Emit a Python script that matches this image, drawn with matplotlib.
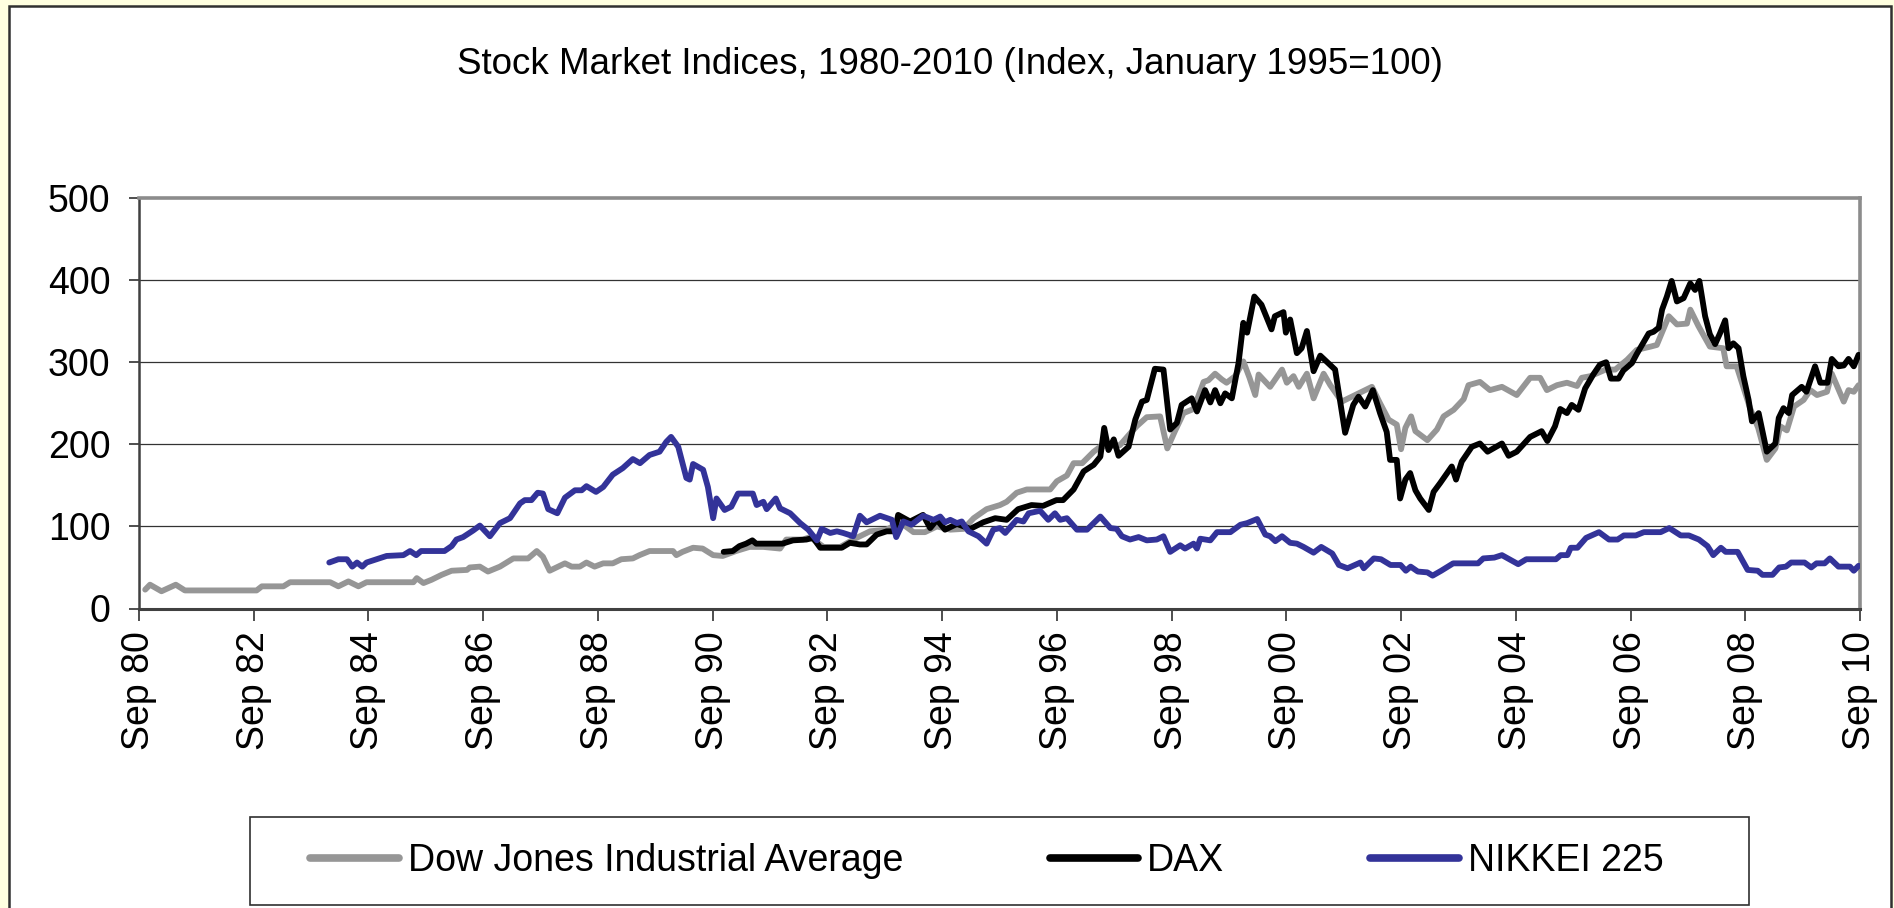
import matplotlib
matplotlib.use("Agg")
import matplotlib.pyplot as plt
from matplotlib.patches import Rectangle
from matplotlib.lines import Line2D

plt.rcParams['font.family'] = ['Liberation Sans', 'DejaVu Sans']

# ---------------- data (month offset from Sep 1980, index value) ----------------
tick_labels = ["Sep 80", "Sep 82", "Sep 84", "Sep 86", "Sep 88", "Sep 90", "Sep 92", "Sep 94",
               "Sep 96", "Sep 98", "Sep 00", "Sep 02", "Sep 04", "Sep 06", "Sep 08", "Sep 10"]
series_names = ["Dow Jones Industrial Average", "DAX", "NIKKEI 225"]

djia_month = [1.3, 2.3, 4.7, 7.7, 9.6, 24.6, 25.7, 30.2, 31.6, 40, 41.7, 43.8, 45.9, 47.6, 57.4, 58.1,
              59.5, 61.2, 63.3, 65.4, 68.6, 69.2, 71.3, 73, 75.5, 78.3, 81.4, 83.2, 84.5, 85.9, 87.7,
              89.1, 90.5, 92.2, 93.6, 95.3, 97.1, 99.1, 100.9, 103.3, 104.7, 106.8, 111.7, 112.4, 113.7,
              115.9, 117.9, 120.1, 122.1, 124.9, 127.7, 130.6, 134.1, 135.4, 138.9, 140.4, 143.2, 146.7,
              149.4, 152.9, 156.4, 159.2, 162, 164.4, 166.9, 169.7, 172.5, 174.6, 177.3, 180.1, 181.5,
              183.6, 185.7, 190.6, 192, 194.1, 195.5, 197.3, 199.7, 201.1, 205.2, 207.3, 208.7, 210.8,
              213.6, 215.1, 216.7, 218.5, 220.6, 222.7, 223.7, 225.1, 226.5, 227.5, 229.3, 231, 232.3,
              233.5, 234.2, 236.6, 239.1, 240.1, 241.5, 242.6, 244.3, 245.7, 247.8, 249.2, 251.6, 253,
              255.1, 257.9, 259.6, 261.4, 263.1, 264, 264.9, 266.1, 267, 269.5, 271.5, 272.9, 275, 277.1,
              278.1, 280.5, 282.6, 285.1, 288.2, 291, 293.1, 294.5, 296.6, 298.7, 300.8, 301.8, 303.6,
              306.8, 308.8, 311.3, 313.3, 316.2, 317.5, 320, 321.7, 323.8, 324.5, 326.2, 328.6, 331.4,
              332.1, 334.2, 337, 338.7, 340.5, 342.3, 343.3, 344.7, 346.2, 348.2, 349.6, 351, 353.1,
              354.1, 356.6, 357.6, 358.7, 359.7]
djia_value = [23, 29, 21, 29, 22, 22, 27, 27, 32, 32, 27, 33, 27, 32, 32, 37,
              31, 35, 41, 46, 47, 50, 51, 45, 51, 61, 61, 70, 63, 46, 51,
              55, 51, 51, 56, 51, 55, 55, 60, 61, 65, 70, 70, 65, 69,
              74, 73, 65, 64, 70, 75, 75, 73, 84, 84, 87, 75, 75,
              84, 94, 96, 105, 93, 93, 100, 96, 97, 110, 121, 126, 130,
              141, 145, 145, 155, 162, 177, 177, 191, 197, 199, 213, 222, 233,
              234, 195, 216, 238, 243, 276, 278, 286, 279, 275, 283, 301, 281,
              260, 285, 270, 291, 275, 283, 270, 286, 256, 286, 272, 252, 256,
              262, 270, 250, 230, 224, 194, 220, 234, 216, 205, 218, 234, 242, 255,
              272, 276, 266, 270, 260, 281, 281, 266, 272, 275, 271, 281, 283,
              291, 291, 303, 315, 319, 321, 356, 346, 347, 364, 344, 319, 317,
              295, 295, 244, 220, 181, 195, 222, 217, 246, 254, 266, 260, 264,
              286, 252, 266, 264, 272]

dax_month = [122.3, 124.2, 125.6, 127, 128.3, 129.1, 134.6, 136.8, 139.6, 141, 142.5, 147, 148.7, 150.8,
             152.2, 154.3, 156.4, 158.1, 158.8, 161.3, 164, 165.5, 166.9, 168.6, 171.1, 173.9, 176.6,
             179.1, 181.5, 183.9, 186.7, 189.1, 191.9, 193.3, 195.5, 197.6, 199.7, 201.1, 201.9, 202.8,
             203.9, 204.9, 207, 208.4, 209.8, 210.8, 212.5, 214.3, 215.7, 217.1, 218.1, 220.2, 221.3,
             223, 224.1, 225.1, 226.2, 227.2, 228.6, 230, 231, 231.8, 233.3, 234.8, 236.9, 237.6, 239.4,
             239.9, 240.8, 242.2, 243.2, 244.3, 245.7, 247.1, 250.2, 251.2, 252.3, 253.3, 254, 255.1,
             256.5, 258.1, 259.6, 261, 261.7, 263.1, 263.8, 264.9, 265.9, 267, 268, 269.8, 270.8, 272.2,
             274.6, 275.5, 276.7, 278.8, 280.5, 282.1, 283.3, 285.1, 286.5, 288.2, 291, 293.4, 294.6,
             296.2, 297.3, 298.7, 299.7, 301.1, 302.5, 304.2, 305.6, 306.9, 307.9, 309.5, 310.5, 312.3,
             313.3, 315.1, 315.8, 316.8, 317.9, 318.6, 319.6, 320.6, 321.7, 323.1, 324.5, 325.5, 326.4,
             327.6, 328.6, 329.7, 330.7, 331.8, 332.5, 333.5, 334.6, 335.6, 336.7, 337.4, 338.8, 340.5,
             342.3, 343, 344, 345.1, 345.8, 347.8, 348.8, 350.6, 351.7, 353.2, 354.1, 355.5, 356.6,
             357.6, 358.7, 359.7]
dax_value = [69, 70, 76, 79, 83, 79, 79, 83, 84, 86, 74, 74, 80, 78,
             78, 90, 94, 94, 114, 106, 114, 98, 108, 96, 103, 97, 105,
             110, 108, 121, 126, 125, 132, 132, 145, 167, 175, 185, 220, 193,
             206, 186, 197, 230, 252, 254, 292, 291, 218, 226, 248, 256, 240,
             266, 251, 266, 250, 262, 256, 299, 348, 336, 380, 370, 340, 356, 361,
             336, 352, 311, 317, 338, 289, 308, 291, 254, 214, 234, 248, 258,
             246, 266, 238, 215, 181, 181, 134, 157, 165, 144, 134, 120, 142, 153,
             173, 157, 179, 197, 201, 191, 195, 201, 186, 191, 209, 216, 204,
             222, 243, 238, 248, 242, 268, 285, 297, 300, 280, 280, 290, 299,
             310, 328, 335, 337, 342, 364, 380, 399, 374, 378, 396, 388, 399,
             356, 334, 322, 335, 351, 317, 323, 317, 283, 254, 228, 238, 191,
             201, 232, 244, 238, 260, 270, 264, 295, 275, 275, 304, 295, 296,
             304, 295, 309]

nikkei_month = [39.8, 41.7, 43.5, 44.6, 45.6, 46.7, 47.6, 49.7, 51.8, 55.3, 56.7, 58, 59, 63.9, 65.4,
                66.4, 67.8, 69.9, 71.3, 73.4, 75.5, 77.6, 79.7, 80.7, 82.1, 83.4, 84.5, 85.6, 87.5, 89.1,
                91.2, 92.6, 93.6, 95.6, 97.1, 99.1, 101.2, 103.3, 104.8, 106.8, 108.9, 110.3, 111.3,
                112.8, 114.5, 115.2, 115.9, 118, 119, 120.1, 120.8, 122.5, 123.9, 125.3, 128.4, 129.2,
                130.6, 131.3, 133.2, 134.1, 136.2, 138.3, 140, 141.8, 142.8, 144.6, 146, 147.3, 149.4,
                150.8, 152.2, 155, 157.5, 158.4, 159.9, 161.6, 164, 166.2, 167.6, 168.6, 169.7, 171.1,
                172.1, 173.5, 175.6, 177.3, 178.7, 180.1, 181.2, 183.6, 185, 186.1, 188.5, 190.2, 191.6,
                192.7, 194.1, 196.2, 198.3, 201.1, 203.2, 204.5, 205.6, 207.3, 209.1, 210.8, 212.9,
                214.3, 215.7, 217.8, 218.8, 220.6, 221.3, 222, 224.1, 225.5, 228.3, 230.4, 231.8, 233.9,
                235.6, 236.6, 237.7, 239.1, 240.8, 242.2, 243.6, 245.7, 247.3, 249.6, 251, 252.8, 255.5,
                256.2, 258.3, 259.8, 261.8, 263.9, 265, 266, 267.5, 269.5, 270.6, 272.4, 274.9, 280.1,
                281.2, 283.5, 285.1, 288.5, 290.2, 296.4, 297.4, 298.8, 299.5, 300.9, 302.7, 305.4,
                307.5, 309.3, 310.6, 313.1, 314.8, 318.3, 320.1, 322.5, 324.2, 326.3, 328.1, 329.3,
                330.9, 331.9, 334.4, 336.5, 338.6, 339.6, 341.7, 343.1, 344.5, 345.6, 348.4, 349.8,
                350.9, 352.6, 353.7, 355.5, 357.9, 358.7, 359.7]
nikkei_value = [56, 60, 60, 51, 56, 51, 56, 60, 64, 65, 70, 65, 70, 70, 76,
                84, 87, 95, 101, 88, 104, 110, 128, 132, 132, 141, 140, 121, 116, 135,
                144, 144, 149, 142, 148, 163, 171, 182, 177, 187, 191, 203, 209,
                197, 159, 157, 176, 169, 148, 110, 134, 120, 124, 140, 140, 126,
                130, 121, 134, 122, 116, 104, 96, 83, 97, 92, 94, 92, 88,
                113, 105, 113, 108, 87, 106, 102, 113, 108, 112, 105, 108, 104,
                106, 94, 88, 79, 96, 98, 92, 108, 106, 116, 119, 108, 116,
                108, 110, 96, 96, 112, 98, 97, 88, 84, 87, 83, 84,
                88, 69, 77, 73, 79, 73, 85, 83, 93, 93, 102, 104, 109,
                90, 88, 82, 88, 80, 79, 75, 68, 75, 67, 53, 49, 56,
                49, 61, 60, 53, 53, 46, 51, 45, 44, 40, 46, 55, 55,
                61, 62, 65, 54, 60, 60, 65, 65, 74, 74, 86, 93,
                84, 84, 89, 89, 93, 93, 98, 89, 89, 84, 76, 65,
                74, 69, 69, 47, 46, 41, 41, 50, 51, 56, 56, 50,
                55, 55, 61, 51, 51, 46, 52]

colors = ["#969696", "#000000", "#333399"]

# ---------------- figure ----------------
W, H = 1894, 908
fig = plt.figure(figsize=(W / 100, H / 100), dpi=100, facecolor="#FFFFE0")

# outer chart-area frame (behind everything)
fig.patches.append(Rectangle((9 / W, -0.02), (1891 - 9) / W, (1 - 6 / H) + 0.02,
                             transform=fig.transFigure, facecolor="white",
                             edgecolor="#303030", linewidth=1.8, zorder=-10))

ax = fig.add_axes([139 / W, 1 - 608.5 / H, (1860 - 139) / W, (608.5 - 198) / H])
ax.set_facecolor("white")
ax.set_zorder(2)

lw = 4.2
for m, v, c, name in [(djia_month, djia_value, colors[0], series_names[0]),
                      (dax_month, dax_value, colors[1], series_names[1]),
                      (nikkei_month, nikkei_value, colors[2], series_names[2])]:
    ax.plot(m, v, color=c, lw=lw, solid_joinstyle="round", solid_capstyle="round",
            label=name, zorder=3)

ax.set_xlim(0, 360)
ax.set_ylim(0, 500)
ax.set_yticks([0, 100, 200, 300, 400, 500])
ax.set_xticks(list(range(0, 361, 24)))
ax.set_xticklabels(tick_labels, rotation=90)
ax.tick_params(axis="y", direction="out", length=7.5, width=1.2, colors="#303030",
               labelsize=27, pad=13, labelcolor="black")
ax.tick_params(axis="x", direction="out", length=8.5, width=1.2, colors="#303030",
               labelsize=27, pad=8, labelcolor="black")

for y in [100, 200, 300, 400]:
    ax.axhline(y, color="#333333", lw=0.9, zorder=1)

ax.spines["top"].set_color("#8C8C8C")
ax.spines["top"].set_linewidth(2.6)
ax.spines["right"].set_color("#8C8C8C")
ax.spines["right"].set_linewidth(2.6)
ax.spines["left"].set_color("#404040")
ax.spines["left"].set_linewidth(1.8)
ax.spines["bottom"].set_color("#404040")
ax.spines["bottom"].set_linewidth(2.2)

# title
fig.text(950 / W, 1 - 65 / H, "Stock Market Indices, 1980-2010 (Index, January 1995=100)",
         ha="center", va="center", fontsize=26.5)

# legend box
fig.patches.append(Rectangle((250 / W, 1 - 905 / H), (1749 - 250) / W, (905 - 817) / H,
                             transform=fig.transFigure, facecolor="white",
                             edgecolor="#303030", linewidth=1.2, zorder=1))
handles = [Line2D([0], [0], color=c, lw=5.5, solid_capstyle="round") for c in colors]
leg = fig.legend(handles, series_names, loc="center", ncol=3,
                 bbox_to_anchor=(987 / W, 1 - 861 / H), frameon=False,
                 fontsize=27, handlelength=2.35, handletextpad=0.25,
                 columnspacing=3.9, borderpad=0.0)
leg.set_zorder(5)

fig.savefig("out.png", dpi=100, facecolor=fig.get_facecolor())
